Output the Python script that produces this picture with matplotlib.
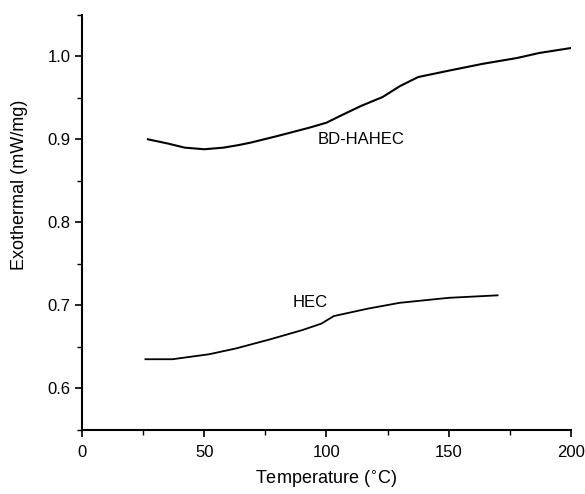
import matplotlib
matplotlib.use("Agg")
import matplotlib.pyplot as plt
from matplotlib.ticker import MultipleLocator

plt.rcParams['font.family'] = ['Liberation Sans', 'DejaVu Sans']

# BD-HAHEC curve
t_bd = [27, 35, 42, 50, 58, 64, 69, 80, 93, 100, 105.5, 114, 123, 130, 137.5, 150.5, 164, 178, 187, 200]
e_bd = [0.900, 0.895, 0.890, 0.888, 0.890, 0.893, 0.896, 0.904, 0.914, 0.920, 0.928, 0.940, 0.951, 0.964, 0.975, 0.983, 0.991, 0.998, 1.004, 1.010]

# HEC curve
t_hec = [26, 37, 52, 63, 77, 90, 98, 103, 117, 130, 150, 170]
e_hec = [0.635, 0.635, 0.641, 0.648, 0.659, 0.670, 0.678, 0.687, 0.696, 0.703, 0.709, 0.712]

fig = plt.figure(figsize=(5.85, 4.94), dpi=100)
ax = fig.add_axes([0.140, 0.130, 0.836, 0.840])

ax.plot(t_bd, e_bd, color='black', lw=1.5)
ax.plot(t_hec, e_hec, color='black', lw=1.3)

ax.text(96.5, 0.900, 'BD-HAHEC', fontsize=12, va='center', ha='left')
ax.text(86.3, 0.7036, 'HEC', fontsize=12, va='center', ha='left')

ax.set_xlim(0, 200)
ax.set_ylim(0.55, 1.05)
ax.xaxis.set_major_locator(MultipleLocator(50))
ax.xaxis.set_minor_locator(MultipleLocator(25))
ax.yaxis.set_major_locator(MultipleLocator(0.1))
ax.yaxis.set_minor_locator(MultipleLocator(0.05))
ax.spines['top'].set_visible(False)
ax.spines['right'].set_visible(False)
ax.spines['left'].set_linewidth(1.5)
ax.spines['bottom'].set_linewidth(1.5)
ax.tick_params(which='major', length=5, width=1.2, labelsize=12)
ax.tick_params(axis='x', which='major', pad=6)
ax.tick_params(axis='y', which='major', pad=3)
ax.tick_params(which='minor', length=3.5, width=1.0)

ax.set_xlabel('Temperature ($^{\\circ}$C)', fontsize=13)
ax.set_ylabel('Exothermal (mW/mg)', fontsize=13)
ax.xaxis.set_label_coords(0.5, -0.094)
ax.yaxis.set_label_coords(-0.110, 0.59)

fig.savefig('out.png', dpi=100)
